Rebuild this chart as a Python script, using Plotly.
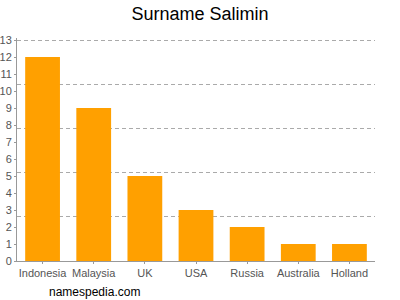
import plotly.graph_objects as go

countries = ["Indonesia", "Malaysia", "UK", "USA", "Russia", "Australia", "Holland"]
counts = [12, 9, 5, 3, 2, 1, 1]
y_ticks = list(range(0, 14))
grid_vals = [2.6, 5.2, 7.8, 10.4, 13]

fig = go.Figure()
fig.add_trace(go.Bar(x=countries, y=counts, marker_color="#FFA000", width=0.68,
                     marker_line_width=0, hoverinfo="skip"))
# invisible trace to drive the dashed grid axis
fig.add_trace(go.Scatter(x=countries, y=counts, yaxis="y2", mode="markers",
                         marker_opacity=0, showlegend=False, hoverinfo="skip"))

fig.update_layout(
    width=400, height=300,
    margin=dict(l=17, r=25, t=38, b=39, autoexpand=False),
    paper_bgcolor="white", plot_bgcolor="white",
    showlegend=False,
    title=dict(text="Surname Salimin", x=0.5, xanchor="center", y=0.955, yanchor="middle",
               font=dict(family="Liberation Sans, Arial", size=18, color="#000")),
    font=dict(family="Liberation Sans, Arial", size=11, color="#555"),
    xaxis=dict(showline=True, linecolor="#999", linewidth=1, ticks="outside",
               ticklen=2, tickcolor="#999", showgrid=False, automargin=False,
               tickfont=dict(size=11, color="#555")),
    yaxis=dict(range=[0, 13.12], tickvals=y_ticks, showline=True, linecolor="#999",
               linewidth=1, ticks="outside", ticklen=2, tickcolor="#999", automargin=False,
               showgrid=False, zeroline=False, tickfont=dict(size=11, color="#555")),
    yaxis2=dict(range=[0, 13.12], tickvals=grid_vals, overlaying="y", showgrid=True,
                gridcolor="#aaa", griddash="4px,3px", gridwidth=1, showticklabels=False,
                zeroline=False, side="right", automargin=False),
)
fig.add_annotation(text="namespedia.com", xref="paper", yref="paper", x=0.084, y=-0.14,
                   xanchor="left", yanchor="middle", showarrow=False,
                   font=dict(family="Liberation Sans, Arial", size=12, color="#000"))
fig.write_html("out.html")
